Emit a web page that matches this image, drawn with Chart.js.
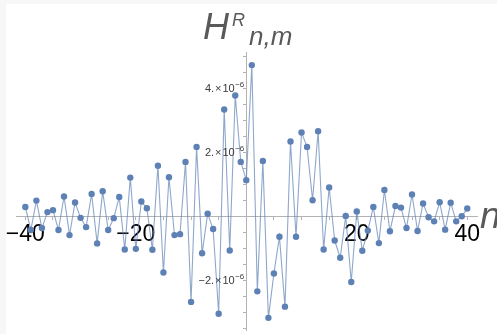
<!DOCTYPE html>
<html>
<head>
<meta charset="utf-8">
<script src="https://cdn.jsdelivr.net/npm/chart.js@4"></script>
<style>
  html, body { margin: 0; padding: 0; background: #f7f7f7; }
  #sheet { position: absolute; left: 6px; top: 4px; width: 491px; height: 330px; background: #fff; }
  #plot { position: absolute; left: 0; top: 0; }
</style>
</head>
<body>
<div id="sheet"></div>
<canvas id="plot" width="497" height="334"></canvas>
<script>
// n index, -40 .. 40
const nValues = [
  -40, -39, -38, -37, -36, -35, -34, -33, -32, -31,
  -30, -29, -28, -27, -26, -25, -24, -23, -22, -21,
  -20, -19, -18, -17, -16, -15, -14, -13, -12, -11,
  -10, -9, -8, -7, -6, -5, -4, -3, -2, -1,
  0, 1, 2, 3, 4, 5, 6, 7, 8, 9,
  10, 11, 12, 13, 14, 15, 16, 17, 18, 19,
  20, 21, 22, 23, 24, 25, 26, 27, 28, 29,
  30, 31, 32, 33, 34, 35, 36, 37, 38, 39,
  40
];

// H^R_{n,m} in units of 1e-6
const hRMicro = [
  0.30, -0.42, 0.50, -0.36, 0.14, 0.20, -0.42, 0.63, -0.58, 0.44,
  -0.04, -0.33, 0.71, -0.84, 0.79, -0.42, -0.05, 0.61, -1.03, 1.22,
  -1.01, 0.47, 0.26, -1.04, 1.59, -1.75, 1.23, -0.58, -0.55, 1.71,
  -2.67, 2.18, -1.15, 0.09, -0.39, -3.04, 3.35, -1.06, 3.79, 1.71,
  1.14, 4.74, -2.34, 1.74, -3.17, -1.78, -0.63, -2.82, 2.35, -0.63,
  2.63, 2.18, 0.51, 2.67, -1.03, 0.91, -0.75, -1.29, 0.02, -2.05,
  0.16, -1.07, -0.44, 0.30, -0.83, 0.83, -0.46, 0.33, 0.28, -0.36,
  0.69, -0.45, 0.41, -0.02, -0.15, 0.45, -0.41, 0.43, -0.15, 0.01,
  0.25
];

const xTickLabels = [-40, -20, 20, 40];
const yTickLabels = [4, 2, -2];   // mantissas of the 10^-6 labels

const BLUE = '#5e81b5';
const AXIS_GRAY = '#b3b3b3';
const LABEL_GRAY = '#595959';

const points = nValues.map((n, i) => ({ x: n, y: hRMicro[i] }));

function onGrid(step) {
  return function(scale) {
    scale.ticks = scale.ticks.filter(t => Math.abs(t.value / step - Math.round(t.value / step)) < 1e-6);
  };
}

// y tick labels "k.×10^-6" and the two axis labels
const labelPlugin = {
  id: 'labels',
  afterDraw(chart) {
    const ctx = chart.ctx;
    const ys = chart.scales.y;
    const xs = chart.scales.x;
    const axisX = xs.getPixelForValue(0);
    ctx.save();
    ctx.fillStyle = '#3a3a3a';
    ctx.textBaseline = 'middle';
    yTickLabels.forEach(v => {
      const py = ys.getPixelForValue(v);
      const sup = '\u22126';
      ctx.font = '8px "Liberation Sans"';
      const supW = ctx.measureText(sup).width;
      const right = axisX - 2;
      ctx.textAlign = 'right';
      ctx.fillText(sup, right, py - 4);
      ctx.font = '11px "Liberation Sans"';
      const main = (v < 0 ? '\u2212' : '') + Math.abs(v) + '.\u200a\u00d7\u200a10';
      ctx.fillText(main, right - supW - 0.5, py);
    });

    // vertical axis label H^R_{n,m}
    ctx.fillStyle = LABEL_GRAY;
    ctx.textAlign = 'left';
    ctx.textBaseline = 'alphabetic';
    ctx.font = 'italic 36px "Liberation Sans"';
    ctx.fillText('H', 203, 39);
    ctx.font = 'italic 18px "Liberation Sans"';
    ctx.fillText('R', 232, 25.5);
    ctx.font = 'italic 26px "Liberation Sans"';
    ctx.fillText('n,m', 249, 45);

    // horizontal axis label n
    ctx.font = 'italic 37px "Liberation Sans"';
    ctx.fillText('n', 480, 228);
    ctx.restore();
  }
};

new Chart(document.getElementById('plot'), {
  type: 'line',
  data: {
    datasets: [{
      data: points,
      borderColor: 'rgba(94,129,181,0.7)',
      borderWidth: 1.1,
      pointRadius: 3.2,
      pointBackgroundColor: BLUE,
      pointBorderColor: BLUE,
      pointBorderWidth: 0,
      tension: 0
    }]
  },
  options: {
    responsive: false,
    animation: false,
    devicePixelRatio: 1,
    layout: { padding: { left: 16.5, right: 19.8, top: 52, bottom: 0.8 } },
    plugins: { legend: { display: false }, tooltip: { enabled: false } },
    scales: {
      x: {
        type: 'linear',
        position: { y: 0 },
        min: -41.6,
        max: 41.8,
        afterBuildTicks: onGrid(5),
        ticks: {
          stepSize: 5,
          includeBounds: false,
          autoSkip: false,
          maxRotation: 0,
          padding: 1,
          color: '#000',
          font: { family: 'Liberation Sans', size: 23 },
          callback: v => xTickLabels.includes(v) ? (v < 0 ? '\u2212' + Math.abs(v) : String(v)) : ''
        },
        grid: { drawOnChartArea: false, drawTicks: true, tickLength: 3, color: AXIS_GRAY },
        border: { display: true, color: AXIS_GRAY, width: 1 }
      },
      y: {
        type: 'linear',
        position: { x: 0 },
        min: -3.55,
        max: 5.15,
        afterBuildTicks: onGrid(0.5),
        ticks: { stepSize: 0.5, includeBounds: false, display: false },
        grid: { drawOnChartArea: false, drawTicks: true, tickLength: 3, color: AXIS_GRAY },
        border: { display: true, color: AXIS_GRAY, width: 1 }
      }
    }
  },
  plugins: [labelPlugin]
});
</script>
</body>
</html>
